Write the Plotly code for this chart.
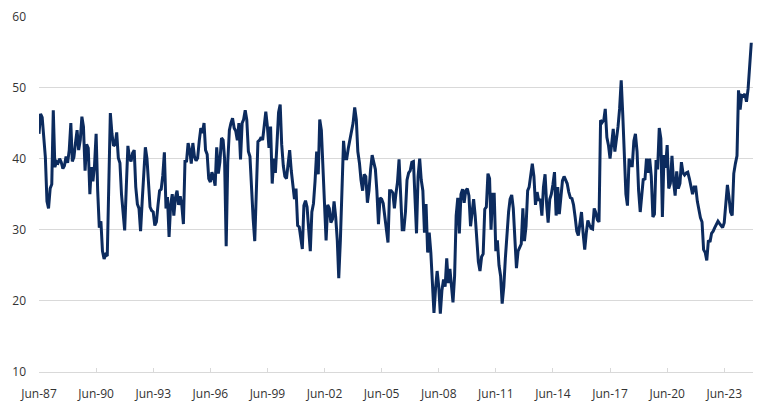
import pandas as pd
import plotly.graph_objects as go

start_month = "1987-06-01"

# Monthly values, Jun-87 .. May-97
v_1987_1997 = [
    43.5, 46.3, 45.8, 42.5, 40.2, 34.0, 33.0, 35.8, 36.4, 46.8, 38.8, 39.6,
    39.4, 40.0, 39.5, 38.6, 39.0, 40.3, 39.4, 41.2, 45.0, 39.6, 40.2, 42.2,
    44.0, 41.2, 42.6, 45.9, 44.5, 38.3, 42.0, 41.5, 35.0, 38.8, 36.8, 39.0,
    43.5, 35.5, 30.3, 31.2, 27.0, 25.9, 26.5, 26.3, 35.5, 46.4, 43.5, 41.8,
    42.0, 43.7, 40.1, 39.4, 35.0, 32.7, 29.9, 36.0, 41.8, 40.1, 39.6, 40.8,
    41.2, 36.0, 33.6, 33.0, 29.8, 34.0, 38.5, 41.6, 40.0, 37.0, 33.2, 32.7,
    32.5, 30.6, 31.1, 33.5, 35.5, 35.7, 37.6, 40.9, 33.0, 34.6, 29.0, 33.5,
    35.0, 32.0, 34.5, 35.5, 33.5, 34.7, 33.5, 30.8, 39.8, 39.5, 42.2, 41.2,
    39.3, 42.2, 40.3, 39.7, 40.1, 42.5, 44.3, 43.6, 45.0, 41.2, 40.6, 37.2,
    36.7, 38.1, 37.4, 36.2, 41.6, 37.9, 39.5, 42.9, 42.6, 40.0, 27.7, 39.5,
]
# Jun-97 .. May-07
v_1997_2007 = [
    44.0, 45.0, 45.7, 44.3, 43.9, 42.6, 45.0, 39.9, 45.0, 45.5, 46.8, 45.5,
    41.0, 40.3, 35.5, 31.5, 28.4, 36.0, 42.4, 42.6, 43.0, 42.6, 44.5, 46.6,
    44.5, 41.5, 44.5, 36.5, 40.0, 38.0, 42.0, 46.5, 47.6, 42.0, 39.0, 37.5,
    37.2, 39.5, 41.2, 38.3, 36.5, 34.3, 35.8, 30.6, 30.4, 29.2, 27.3, 33.4,
    34.1, 33.2, 30.0, 27.0, 32.5, 33.7, 36.8, 41.0, 37.8, 45.5, 44.0, 38.5,
    32.5, 28.5, 33.5, 33.0, 31.0, 31.5, 34.0, 31.8, 28.5, 23.2, 28.5, 35.3,
    42.5, 40.0, 40.0, 41.5, 42.5, 44.0, 45.0, 47.2, 45.5, 41.0, 39.4, 37.0,
    35.5, 37.8, 37.5, 33.8, 35.5, 38.5, 40.5, 39.5, 38.5, 35.5, 30.8, 34.5,
    34.3, 33.7, 32.0, 29.5, 28.2, 35.5, 35.5, 35.2, 33.0, 35.0, 36.7, 39.9,
    34.5, 30.0, 30.0, 32.5, 37.0, 38.0, 38.3, 39.5, 39.6, 35.0, 29.5, 37.5,
]
# Jun-07 .. May-17
v_2007_2017 = [
    40.0, 37.0, 35.5, 29.6, 33.6, 26.8, 29.6, 26.8, 22.5, 18.3, 21.8, 24.2,
    22.0, 18.2, 21.5, 23.0, 22.0, 26.0, 22.5, 24.5, 22.0, 19.8, 23.5, 32.0,
    34.5, 29.5, 35.0, 35.7, 33.8, 35.5, 35.8, 34.8, 30.5, 32.0, 34.3, 32.0,
    28.5, 25.5, 24.2, 26.2, 26.6, 32.9, 33.2, 37.9, 37.2, 30.0, 35.0, 35.0,
    27.0, 28.5, 25.0, 23.5, 19.6, 22.0, 26.0, 29.5, 32.5, 34.3, 34.9, 33.0,
    27.8, 24.6, 27.0, 27.5, 28.0, 33.0, 28.4, 30.5, 35.5, 36.0, 38.0, 39.3,
    37.5, 33.5, 35.3, 34.1, 34.3, 32.0, 36.0, 37.8, 33.5, 31.0, 34.3, 35.0,
    36.4, 38.1, 32.0, 36.0, 32.2, 34.8, 36.9, 37.5, 37.0, 36.5, 35.3, 34.5,
    34.4, 33.5, 31.8, 29.8, 29.2, 31.3, 32.5, 29.5, 27.2, 29.5, 31.3, 30.7,
    30.2, 30.1, 33.0, 32.4, 31.4, 31.1, 45.4, 45.1, 45.4, 47.0, 43.0, 41.9,
]
# Jun-17 .. Nov-24
v_2017_2024 = [
    40.0, 42.0, 44.2, 41.0, 42.5, 44.5, 47.0, 51.0, 46.0, 40.0, 35.0, 33.4,
    40.0, 39.0, 39.0, 42.5, 43.5, 41.0, 35.5, 32.5, 34.5, 37.2, 37.0, 40.0,
    38.0, 40.0, 37.5, 31.8, 32.2, 39.8, 38.5, 44.3, 42.8, 31.8, 40.5, 38.7,
    41.9, 35.8, 36.5, 40.4, 36.8, 34.8, 38.2, 35.8, 36.5, 39.5, 38.0, 37.7,
    38.0, 38.1, 37.2, 36.2, 35.0, 36.0, 36.0, 34.0, 32.6, 31.7, 31.1, 27.2,
    26.8, 25.7, 28.5, 28.3, 29.5, 29.8, 30.3, 30.8, 31.2, 30.9, 30.5, 30.3,
    31.0, 34.2, 36.3, 34.5, 32.5, 32.0, 37.9, 39.3, 40.4, 49.6, 46.9, 48.9,
    48.8, 49.1, 48.0, 49.8, 52.5, 56.3,
]

tick_dates = ["1987-06-01", "1990-06-01", "1993-06-01", "1996-06-01", "1999-06-01",
              "2002-06-01", "2005-06-01", "2008-06-01", "2011-06-01", "2014-06-01",
              "2017-06-01", "2020-06-01", "2023-06-01"]
tick_labels = ["Jun-87", "Jun-90", "Jun-93", "Jun-96", "Jun-99", "Jun-02", "Jun-05",
               "Jun-08", "Jun-11", "Jun-14", "Jun-17", "Jun-20", "Jun-23"]
y_ticks = [10, 20, 30, 40, 50, 60]

values = v_1987_1997 + v_1997_2007 + v_2007_2017 + v_2017_2024
dates = pd.date_range(start_month, periods=len(values), freq="MS")

fig = go.Figure()
fig.add_trace(go.Scatter(
    x=dates, y=values, mode="lines",
    line=dict(color="#0c2b5e", width=3),
    hoverinfo="skip", showlegend=False,
))

grid = "#d9d9d9"
# page body has an 8px default margin, so the figure is sized to fit inside it
fig.update_layout(
    width=754, height=393,
    margin=dict(l=31, r=9, t=8, b=29),
    paper_bgcolor="white", plot_bgcolor="white",
    font=dict(family="Open Sans", size=12, color="#333333"),
    xaxis=dict(
        type="date", range=["1987-06-01", "2024-12-04"],
        tickmode="array", tickvals=tick_dates, ticktext=tick_labels,
        showgrid=False, zeroline=False,
        showline=True, linecolor=grid, linewidth=1,
        ticks="inside", ticklen=4, tickcolor=grid, tickwidth=1,
        ticklabelstandoff=11, automargin=False,
        ticklabeloverflow="allow",
    ),
    yaxis=dict(
        range=[10, 60.06], tickmode="array", tickvals=y_ticks,
        showgrid=True, gridcolor=grid, gridwidth=1,
        zeroline=False, showline=False, ticks="",
        ticklabelstandoff=12, automargin=False,
        ticklabeloverflow="allow",
    ),
)

fig.write_html("out.html")
